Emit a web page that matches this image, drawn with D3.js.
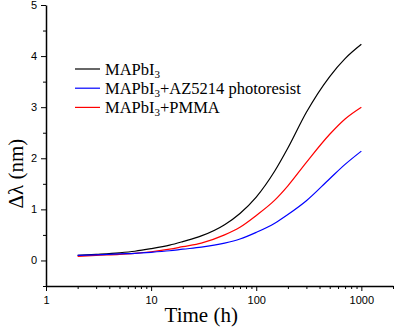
<!DOCTYPE html>
<html>
<head>
<meta charset="utf-8">
<script src="https://cdn.jsdelivr.net/npm/d3@7"></script>
<style>
  body { margin: 0; background: #fff; }
  .tick text { font-family: Arial, "Liberation Sans", sans-serif; font-size: 11px; fill: #000; }
  .axis path, .axis line { stroke: #000; }
</style>
</head>
<body>
<svg width="399" height="329"></svg>
<script>
var times = [2, 3, 5, 7, 10, 15, 20, 30, 50, 70, 100, 150, 200, 300, 500, 700, 1000];
var mapbi3 = [0.1, 0.12, 0.15, 0.18, 0.23, 0.3, 0.37, 0.48, 0.7, 0.92, 1.24, 1.75, 2.2, 2.9, 3.6, 3.95, 4.23];
var mapbi3Pmma = [0.08, 0.1, 0.12, 0.14, 0.17, 0.22, 0.27, 0.34, 0.5, 0.65, 0.88, 1.18, 1.46, 1.92, 2.47, 2.77, 3.0];
var mapbi3Az = [0.1, 0.11, 0.13, 0.14, 0.16, 0.19, 0.22, 0.26, 0.34, 0.42, 0.55, 0.73, 0.9, 1.17, 1.6, 1.88, 2.14];
var xTicks = [1, 10, 100, 1000];
var yTicks = [0, 1, 2, 3, 4, 5];

var series = [
    {extra: "", values: mapbi3, color: "#000000"},
    {extra: "+AZ5214 photoresist", values: mapbi3Az, color: "#0000ff"},
    {extra: "+PMMA", values: mapbi3Pmma, color: "#ff0000"}
];
// draw order: black, red, blue
var drawOrder = [0, 2, 1];

var svg = d3.select("svg"),
    margin = {top: 5, right: 6, bottom: 43, left: 46},
    width = +svg.attr("width") - margin.left - margin.right,
    height = +svg.attr("height") - margin.top - margin.bottom,
    g = svg.append("g").attr("transform", "translate(" + margin.left + "," + margin.top + ")");

var x = d3.scaleLog().domain([1, 2000]).range([0, width]);
var y = d3.scaleLinear().domain([-0.5, 5]).range([height, 0]);

// minor ticks
var xMinor = [];
xTicks.forEach(function(d) {
    for (var k = 2; k <= 9; k++) if (d * k <= 2000) xMinor.push(d * k);
});
g.append("g")
    .attr("class", "axis")
    .attr("transform", "translate(0," + height + ")")
    .call(d3.axisBottom(x).tickValues(xMinor).tickSize(3).tickFormat(""))
    .select(".domain").remove();
g.append("g")
    .attr("class", "axis")
    .call(d3.axisLeft(y).tickValues([-0.5, 0.5, 1.5, 2.5, 3.5, 4.5]).tickSize(3).tickFormat(""))
    .select(".domain").remove();

var xAxis = g.append("g")
    .attr("class", "axis")
    .attr("transform", "translate(0," + height + ")")
    .call(d3.axisBottom(x).tickValues(xTicks).tickSize(5).tickSizeOuter(0).tickPadding(5).tickFormat(d3.format("d")));
var yAxis = g.append("g")
    .attr("class", "axis")
    .call(d3.axisLeft(y).tickValues(yTicks).tickSize(5).tickSizeOuter(0).tickPadding(4).tickFormat(d3.format("d")));
xAxis.select(".domain").attr("stroke-width", 1.5);
yAxis.select(".domain").attr("stroke-width", 1.5);

var line = d3.line()
    .x(function(d, i) { return x(times[i]); })
    .y(function(d) { return y(d); })
    .curve(d3.curveMonotoneX);

drawOrder.forEach(function(k) {
    g.append("path")
        .datum(series[k].values)
        .attr("fill", "none")
        .attr("stroke", series[k].color)
        .attr("stroke-width", 1.2)
        .attr("d", line);
});

// legend
var legend = svg.append("g").attr("transform", "translate(75,69)");
series.forEach(function(s, i) {
    var row = legend.append("g").attr("transform", "translate(0," + (i * 19.2) + ")");
    row.append("line")
        .attr("x1", 0).attr("x2", 25)
        .attr("stroke", s.color).attr("stroke-width", 1.2);
    var t = row.append("text")
        .attr("x", 30).attr("y", 5.5)
        .attr("font-family", "'Liberation Serif', 'Times New Roman', serif")
        .attr("font-size", 16.5);
    t.append("tspan").text("MAPbI");
    t.append("tspan").attr("dy", 3.5).attr("font-size", 11).text("3");
    t.append("tspan").attr("dy", -3.5).text(s.extra);
});

// axis titles
svg.append("text")
    .attr("x", margin.left + x(30))
    .attr("y", 322)
    .attr("text-anchor", "middle")
    .attr("font-family", "'Liberation Serif', 'Times New Roman', serif")
    .attr("font-size", 21)
    .text("Time (h)");
svg.append("text")
    .attr("transform", "translate(23," + (margin.top + y(1.7)) + ") rotate(-90)")
    .attr("text-anchor", "middle")
    .attr("font-family", "'Liberation Serif', 'Times New Roman', serif")
    .attr("font-size", 21)
    .text("Δλ (nm)");
</script>
</body>
</html>
